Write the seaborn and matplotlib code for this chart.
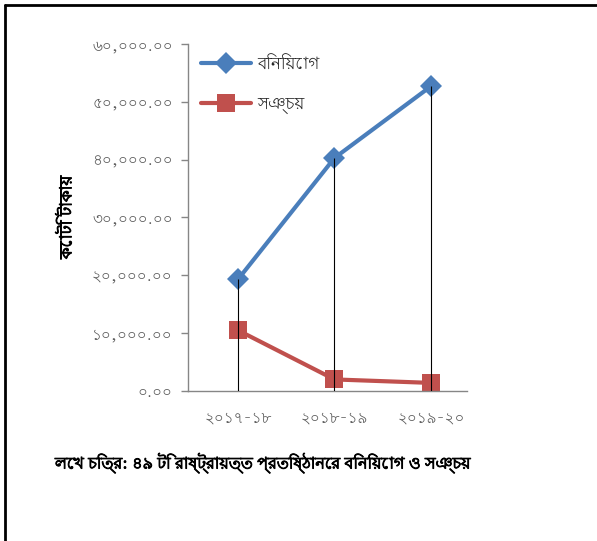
import matplotlib
matplotlib.use("Agg")
import matplotlib.pyplot as plt
from matplotlib import font_manager as fm
from matplotlib.lines import Line2D
import matplotlib.patheffects as pe
import seaborn as sns
import pandas as pd

# ---- data ----
years = ["২০১৭-১৮", "২০১৮-১৯", "২০১৯-২০"]
investment = [19300, 40300, 52700]   # বিনিয়োগ
savings = [10500, 2000, 1400]        # সঞ্চয়
yticks = [0, 10000, 20000, 30000, 40000, 50000, 60000]
ytick_labels = ["০.০০", "১০,০০০.০০", "২০,০০০.০০", "৩০,০০০.০০",
                "৪০,০০০.০০", "৫০,০০০.০০", "৬০,০০০.০০"]
series_names = ["বিনি\u09dfোগ", "সঞ্চ\u09df"]
ylabel = "কোটি টাকা\u09df"
caption = "লেখ চিত্র: ৪৯ টি রাষ্ট্রা\u09dfত্ত প্রতিষ্ঠানের বিনি\u09dfোগ ও সঞ্চ\u09df"

sns.set_style("white")
names = {f.name for f in fm.fontManager.ttflist}
bn = "Lohit Bengali" if "Lohit Bengali" in names else "Noto Sans Bengali"
plt.rcParams["font.family"] = [bn, "DejaVu Sans"]

blue = "#4A7EBB"
red = "#C0504D"
bold_fx = [pe.withStroke(linewidth=0.7, foreground="black")]

fig = plt.figure(figsize=(5.97, 5.41), dpi=100)
ax = fig.add_axes([188/597, 1-391/541, 279/597, 347/541])

df = pd.DataFrame({"year": years, "inv": investment, "sav": savings})
sns.lineplot(data=df, x="year", y="inv", ax=ax, color=blue, lw=3,
             marker="D", markersize=11, markeredgewidth=0, sort=False)
sns.lineplot(data=df, x="year", y="sav", ax=ax, color=red, lw=3,
             marker="s", markersize=13, markeredgewidth=0, sort=False)
ax.vlines(range(len(years)), 0, investment, colors="black", lw=0.8, zorder=3)

ax.set_xlim(-0.518, 2.373)
ax.set_ylim(0, 60000)
ax.set_yticks(yticks)
ax.set_yticklabels(ytick_labels)
ax.set_xlabel("")
yl = ax.set_ylabel(ylabel, fontsize=12, color="black", labelpad=12)
yl.set_path_effects(bold_fx)
for s in ["top", "right"]:
    ax.spines[s].set_visible(False)
for s in ["left", "bottom"]:
    ax.spines[s].set_color("#868686")
    ax.spines[s].set_linewidth(1)
ax.tick_params(axis="y", direction="out", length=5, width=1, color="#868686",
               labelcolor="#595959", labelsize=11, pad=6, left=True)
ax.tick_params(axis="x", length=0, labelcolor="#595959", labelsize=11, pad=14)

handles = [Line2D([], [], color=blue, lw=3, marker="D", markersize=11, markeredgewidth=0),
           Line2D([], [], color=red, lw=3, marker="s", markersize=13, markeredgewidth=0)]
fig.legend(handles, series_names, loc="upper left", bbox_to_anchor=(186/597, 1-40/541),
           frameon=False, fontsize=12, handlelength=3.0, handletextpad=0.35,
           labelspacing=1.3)

cap = fig.text(55/597, 1-463/541, caption, fontsize=11.5, color="black",
               va="center", ha="left")
cap.set_path_effects(bold_fx)

# outer frame (left and top)
fig.add_artist(Line2D([5/597, 5/597], [0, 1-5/541], transform=fig.transFigure,
                      color="black", lw=2))
fig.add_artist(Line2D([5/597, 1], [1-5/541, 1-5/541], transform=fig.transFigure,
                      color="black", lw=2))

fig.savefig("out.png", dpi=100)
